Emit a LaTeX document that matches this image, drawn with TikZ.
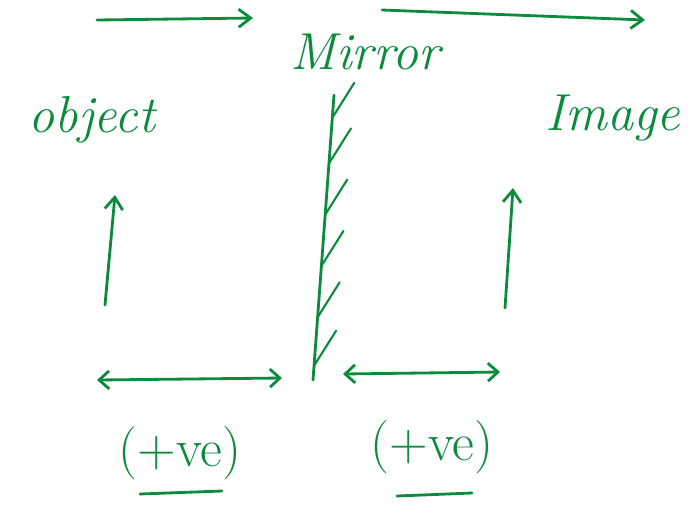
\documentclass[tikz,border=0pt]{standalone}
\usepackage{tikz}
\usetikzlibrary{arrows.meta,calc}
\definecolor{inkc}{HTML}{0C8B3C}

\begin{document}
\begin{tikzpicture}[x=0.025cm, y=-0.025cm,
  pen/.style={draw=inkc, line width=2pt, line cap=round},
  arr/.style={pen, -{Straight Barb[length=3mm, width=4.5mm]}},
  darr/.style={pen, {Straight Barb[length=2.5mm, width=4.5mm]}-{Straight Barb[length=2.5mm, width=4.5mm]}},
  word/.style={text=inkc, font=\fontsize{37}{40}\selectfont\itshape},
  sign/.style={text=inkc, font=\fontsize{38}{42}\selectfont}
]
  \useasboundingbox (0,0) rectangle (695,528);

  % labels
  \node[word] (mirror) at (365,52) {Mirror};
  \node[word] (obj) at (92,120) {object};
  \node[word] (img) at (613,118) {Image};
  \node[sign] (lsign) at (180,453) {(+ve)};
  \node[sign] (rsign) at (432,447) {(+ve)};

  % end points
  \coordinate (t1a) at (97,20);   \coordinate (t1b) at (253,18);
  \coordinate (t2a) at (382,10);  \coordinate (t2b) at (645,20);
  \coordinate (u1a) at (105,305); \coordinate (u1b) at (115,195);
  \coordinate (u2a) at (505,308); \coordinate (u2b) at (513,188);
  \coordinate (mtop) at (334,95); \coordinate (mbot) at (313,380);
  \coordinate (d1a) at (97,380);  \coordinate (d1b) at (282,378);
  \coordinate (d2a) at (343,374); \coordinate (d2b) at (500,372);

  % rays
  \draw[arr] (t1a) -- (t1b);
  \draw[arr] (t2a) -- (t2b);
  \draw[arr] (u1a) -- (u1b);
  \draw[arr] (u2a) -- (u2b);

  % mirror
  \draw[pen] (mbot) -- (mtop);
  \foreach \t in {0.05,0.22,0.4,0.58,0.76,0.92}
    \draw[pen, line width=1.5pt] ($(mbot)!\t!(mtop)$) -- ++(22,-35);

  % distances
  \draw[darr] (d1a) -- (d1b);
  \draw[darr] (d2a) -- (d2b);

  % underlines
  \draw[pen] (140,494) -- (222,491);
  \draw[pen] (397,496) -- (472,493);
\end{tikzpicture}
\end{document}
